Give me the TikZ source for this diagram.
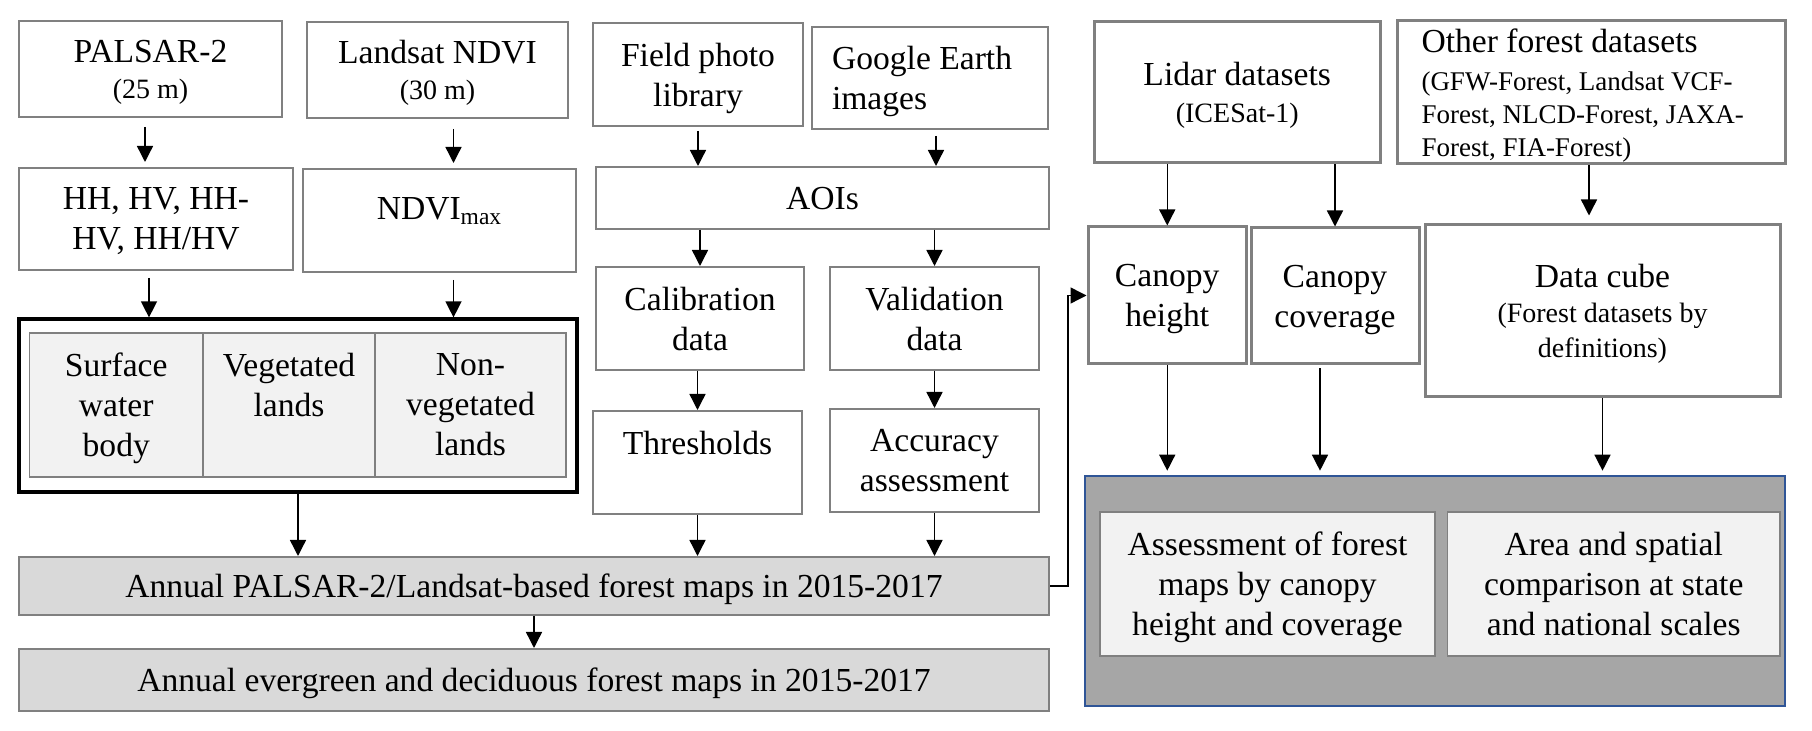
\documentclass[tikz,border=0pt]{standalone}
\usepackage{fontspec}
\setmainfont{Liberation Serif}
\usepackage{tikz}
\usetikzlibrary{arrows.meta}
\definecolor{boxline}{HTML}{808080}
\definecolor{lightfill}{HTML}{F2F2F2}
\definecolor{mapfill}{HTML}{D9D9D9}
\definecolor{resfill}{HTML}{A6A6A6}
\definecolor{resline}{HTML}{2F5597}

\begin{document}
\begin{tikzpicture}[x=0.5pt,y=-0.5pt,
  box/.style={draw=boxline, line width=1pt, align=center, inner sep=0pt, text depth=0pt, font=\fontsize{16.8}{20}\selectfont},
  thickbox/.style={box, line width=1.5pt},
  classbox/.style={box, fill=lightfill, line width=0.8pt},
  mapbox/.style={box, fill=mapfill},
  link/.style={-{Triangle[length=8pt,width=8pt]}, line width=0.7pt}]
\useasboundingbox (0,0) rectangle (1812,731);

\node[box, minimum width=131.5pt, minimum height=48pt] (pal) at (150.5,69) {PALSAR-2\\[-2pt]{\fontsize{14}{17}\selectfont (25 m)}};
\node[box, minimum width=130.5pt, minimum height=48pt] (lndvi) at (437.5,70) {Landsat NDVI\\[-2pt]{\fontsize{14}{17}\selectfont (30 m)}};
\node[box, minimum width=137pt, minimum height=51pt] (pol) at (156,219) {HH, HV, HH-\\HV, HH/HV};
\node[box, minimum width=136.5pt, minimum height=51.5pt] (nmax) at (439.5,220.5) {NDVI\textsubscript{max}\\[-8pt] \mbox{}};
\node[draw=black, line width=1.6pt, minimum width=279pt, minimum height=86.5pt, inner sep=0pt] (cls) at (298,405.5) {};
\node[classbox, minimum width=86.75pt, minimum height=72pt] (water) at (116.25,405) {Surface\\water\\body};
\node[classbox, minimum width=86pt, minimum height=72pt] (veg) at (289,405) {Vegetated\\lands\\ \mbox{}};
\node[classbox, minimum width=95.5pt, minimum height=72pt] (nveg) at (470.5,405) {Non-\\vegetated\\lands};
\node[mapbox, minimum width=515pt, minimum height=29pt] (fmap) at (534,586) {Annual PALSAR-2/Landsat-based forest maps in 2015-2017};
\node[mapbox, minimum width=515pt, minimum height=31pt] (efmap) at (534,680) {Annual evergreen and deciduous forest maps in 2015-2017};

\node[box, minimum width=105pt, minimum height=51.5pt] (photo) at (698,74.5) {Field photo\\library};
\node[box, align=flush left, text width=98pt, inner xsep=10pt, text depth=20pt, minimum height=51pt] (ge) at (930,78) {Google Earth\\images};
\node[box, minimum width=226.5pt, minimum height=31pt] (aoi) at (822.5,198) {AOIs};
\node[box, minimum width=104pt, minimum height=51.5pt] (calib) at (700,318.5) {Calibration\\data};
\node[box, minimum width=104.5pt, minimum height=51.5pt] (valid) at (934.5,318.5) {Validation\\data};
\node[box, minimum width=104.5pt, minimum height=51.5pt] (thr) at (697.5,462.5) {Thresholds\\ \mbox{}};
\node[box, minimum width=104.5pt, minimum height=51.5pt] (acc) at (934.5,460.5) {Accuracy\\assessment};

\node[thickbox, minimum width=142.75pt, minimum height=70.5pt] (lidar) at (1237.25,92.5) {Lidar datasets\\[-1.5pt]{\fontsize{14}{17}\selectfont (ICESat-1)}};
\node[thickbox, align=flush left, text width=170pt, inner xsep=12pt, text depth=52pt, minimum height=71.5pt, font=\fontsize{13.5}{16.5}\selectfont] (other) at (1591.5,92.5) {{\fontsize{16.8}{20}\selectfont Other forest datasets}\\[2.5pt](GFW-Forest, Landsat VCF-\\Forest, NLCD-Forest, JAXA-\\Forest, FIA-Forest)};
\node[thickbox, minimum width=79.25pt, minimum height=68.5pt] (ch) at (1167.25,295.5) {Canopy\\height};
\node[thickbox, minimum width=84pt, minimum height=68pt] (cc) at (1335,296) {Canopy\\coverage};
\node[thickbox, minimum width=177.5pt, minimum height=86pt, font=\fontsize{14}{17.5}\selectfont] (cube) at (1602.5,311) {{\fontsize{16.8}{20}\selectfont Data cube}\\(Forest datasets by\\definitions)};
\node[draw=resline, fill=resfill, line width=1.3pt, minimum width=350pt, minimum height=115pt, inner sep=0pt] (res) at (1435,591) {};
\node[classbox, minimum width=167.5pt, minimum height=72pt] (assess) at (1267.5,584) {Assessment of forest\\maps by canopy\\height and coverage};
\node[classbox, minimum width=166.25pt, minimum height=72pt] (comp) at (1613.75,584) {Area and spatial\\comparison at state\\and national scales};

\draw[link, shorten <=4.5pt, shorten >=2.5pt] ([xshift=-2.75pt]pal.south) -- ([xshift=-2.75pt]pal.south |- pol.north);
\draw[link, shorten <=5pt, shorten >=2.5pt] ([xshift=8pt]lndvi.south) -- ([xshift=8pt]lndvi.south |- nmax.north);
\draw[link, shorten <=3.5pt] ([xshift=-3.5pt]pol.south) -- ([xshift=-3.5pt]pol.south |- cls.north);
\draw[link, shorten <=3.5pt] ([xshift=7pt]nmax.south) -- ([xshift=7pt]nmax.south |- cls.north);
\draw[link] (cls.south) -- (cls.south |- fmap.north);
\draw[link] (fmap.south) -- (efmap.north);
\draw[link, shorten <=2pt] (photo.south) -- (photo.south |- aoi.north);
\draw[link, shorten <=3pt] ([xshift=3pt]ge.south) -- ([xshift=3pt]ge.south |- aoi.north);
\draw[link] (aoi.south -| calib.north) -- (calib.north);
\draw[link] (aoi.south -| valid.north) -- (valid.north);
\draw[link] (calib.south -| thr.north) -- (thr.north);
\draw[link] (valid.south) -- (acc.north);
\draw[link] (thr.south) -- (thr.south |- fmap.north);
\draw[link] (acc.south) -- (acc.south |- fmap.north);
\draw[link] (fmap.east) -- ++(9pt,0pt) |- (ch.west);
\draw[link] (lidar.south -| ch.north) -- (ch.north);
\draw[link] (lidar.south -| cc.north) -- (cc.north);
\draw[link, shorten >=4pt] ([xshift=-6.75pt]cube.north |- other.south) -- ([xshift=-6.75pt]cube.north);
\draw[link, shorten >=2pt] (ch.south) -- (ch.south |- res.north);
\draw[link, shorten <=1.5pt, shorten >=2pt] ([xshift=-7.5pt]cc.south) -- ([xshift=-7.5pt]cc.south |- res.north);
\draw[link, shorten >=2pt] (cube.south) -- (cube.south |- res.north);
\end{tikzpicture}
\end{document}
